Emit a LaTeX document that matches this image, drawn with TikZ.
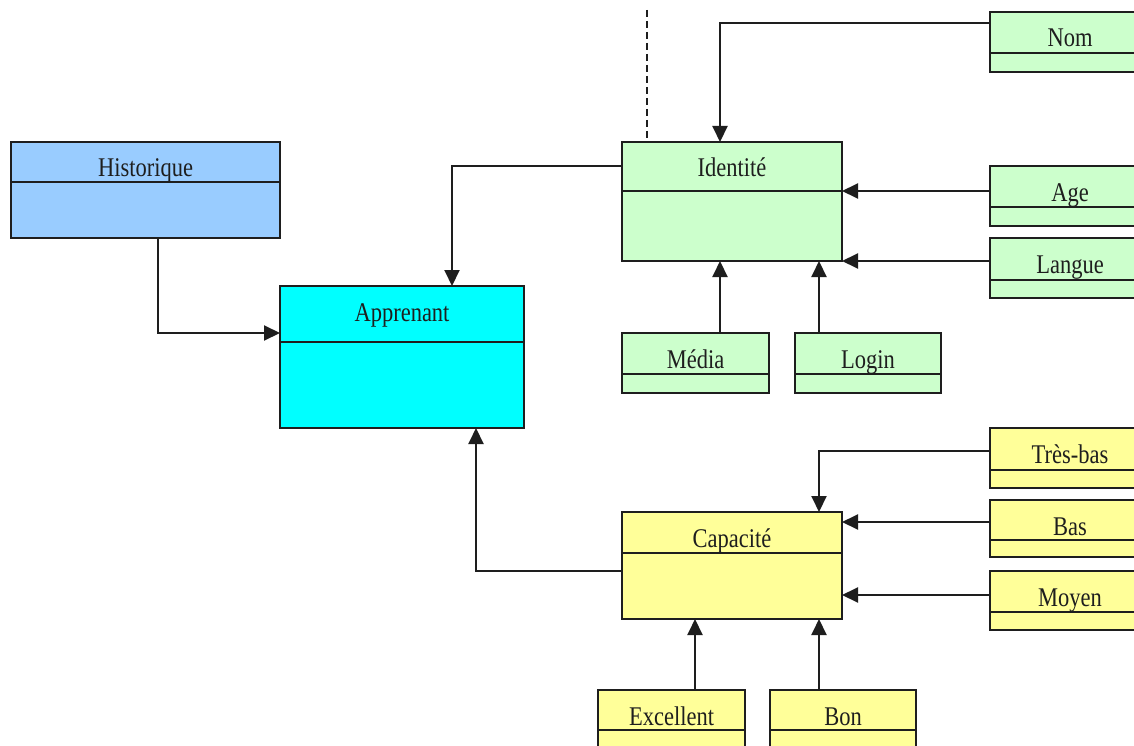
\documentclass[tikz,border=0pt]{standalone}
\usepackage{fontspec}
\setmainfont{Liberation Serif}
\usetikzlibrary{arrows.meta}

\definecolor{histblue}{HTML}{99CCFF}
\definecolor{apprcyan}{HTML}{00FFFF}
\definecolor{idgreen}{HTML}{CCFFCC}
\definecolor{capyellow}{HTML}{FFFF99}
\definecolor{ink}{HTML}{1E1E1E}

\tikzset{
  cls/.style={draw=ink, line width=2pt, rectangle, inner sep=0pt, outer sep=0pt},
  lbl/.style={inner sep=0pt, anchor=base, text=ink, font=\fontsize{22.5}{24}\selectfont},
  conn/.style={draw=ink, line width=2pt, -{Triangle[length=16pt,width=15pt]}},
  guide/.style={draw=ink, line width=1.5pt, dash pattern=on 7pt off 4pt}
}

% class box: name, x1, y1, x2, y2, divider y, fill, title
\newcommand\classbox[8]{%
  \node[cls, fill=#7, minimum width={#4-#2}, minimum height={#5-#3}, anchor=north west] (#1) at (#2,#3) {};
  \draw[draw=ink, line width=2pt] (#2,#6) -- (#4,#6);
  \node[lbl] (#1-title) at ({(#2+#4)/2},{#3+35}) {\scalebox{1}[1.2]{#8}};
}

\begin{document}
\begin{tikzpicture}[x=1pt,y=-1pt]
  \clip (0,0) rectangle (1134,746);
  \fill[white] (0,0) rectangle (1134,746);

  % classes
  \classbox{hist}{11}{142}{280}{238}{182}{histblue}{Historique}
  \classbox{appr}{280}{286}{524}{428}{342}{apprcyan}{Apprenant}
  \classbox{ident}{622}{142}{842}{261}{191}{idgreen}{Identité}
  \classbox{nom}{990}{12}{1150}{72}{53}{idgreen}{Nom}
  \classbox{age}{990}{166}{1150}{226}{207}{idgreen}{Age}
  \classbox{langue}{990}{238}{1150}{298}{280}{idgreen}{Langue}
  \classbox{media}{622}{333}{769}{393}{374}{idgreen}{Média}
  \classbox{login}{795}{333}{941}{393}{374}{idgreen}{Login}
  \classbox{cap}{622}{512}{842}{619}{553}{capyellow}{Capacité}
  \classbox{tresbas}{990}{428}{1150}{488}{470}{capyellow}{Très-bas}
  \classbox{bas}{990}{500}{1150}{557}{540}{capyellow}{Bas}
  \classbox{moyen}{990}{571}{1150}{630}{612}{capyellow}{Moyen}
  \classbox{excel}{598}{690}{745}{760}{730}{capyellow}{Excellent}
  \classbox{bon}{770}{690}{916}{760}{730}{capyellow}{Bon}

  % dashed guide above Identité
  \coordinate (guidetop) at (647,10);
  \draw[guide] (guidetop) -- (ident.north -| guidetop);

  % connectors
  \draw[conn] (hist.south -| 158,0) |- (appr.west |- 0,333);
  \draw[conn] (ident.west |- 0,166) -| (appr.north -| 452,0);
  \draw[conn] (nom.west |- 0,23) -| (ident.north -| 720,0);
  \draw[conn] (age.west |- 0,191) -- (ident.east |- 0,191);
  \draw[conn] (langue.west |- 0,261) -- (ident.east |- 0,261);
  \draw[conn] (media.north -| 720,0) -- (ident.south -| 720,0);
  \draw[conn] (login.north -| 819,0) -- (ident.south -| 819,0);
  \draw[conn] (cap.west |- 0,571) -| (appr.south -| 476,0);
  \draw[conn] (tresbas.west |- 0,451) -| (cap.north -| 819,0);
  \draw[conn] (bas.west |- 0,522) -- (cap.east |- 0,522);
  \draw[conn] (moyen.west |- 0,595) -- (cap.east |- 0,595);
  \draw[conn] (excel.north -| 695,0) -- (cap.south -| 695,0);
  \draw[conn] (bon.north -| 819,0) -- (cap.south -| 819,0);
\end{tikzpicture}
\end{document}
